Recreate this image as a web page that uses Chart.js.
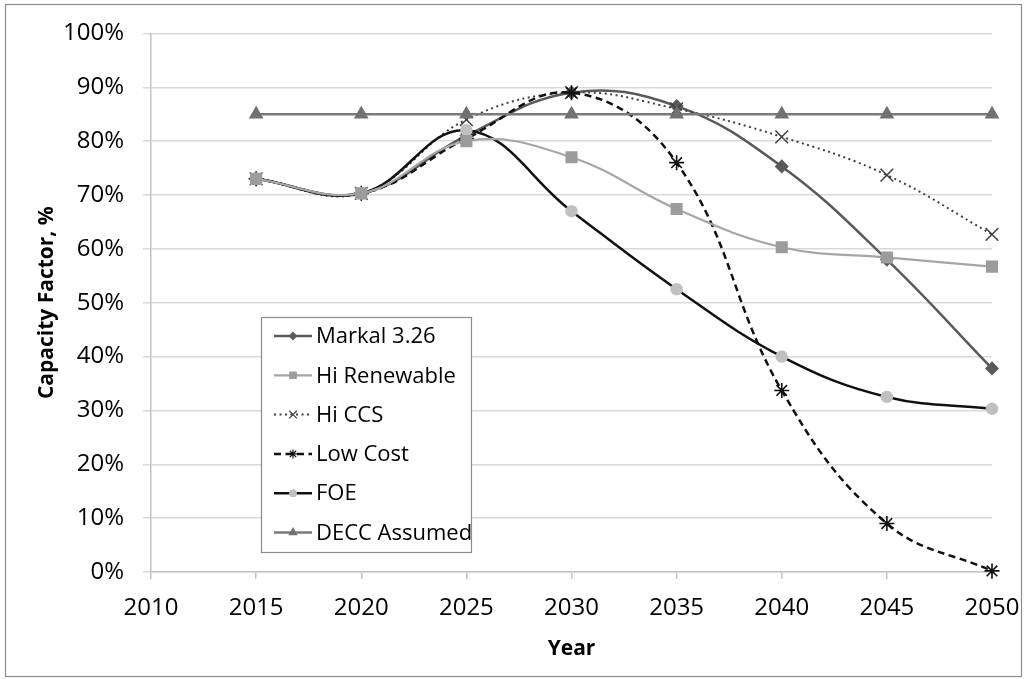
<!DOCTYPE html>
<html>
<head>
<meta charset="utf-8">
<script src="https://cdn.jsdelivr.net/npm/chart.js"></script>
<style>
  body { margin: 0; background: #fff; }
  #wrap { width: 1027px; height: 679px; position: relative; }
</style>
</head>
<body>
<div id="wrap"><canvas id="cf"></canvas></div>
<script>
'use strict';

// values (% capacity factor)
const years = [2015, 2020, 2025, 2030, 2035, 2040, 2045, 2050];
const markal = [73, 70.3, 81, 89, 86.5, 75.3, 58, 37.8];
const hiRenewable = [73, 70.3, 80, 77, 67.4, 60.3, 58.4, 56.7];
const hiCCS = [73, 70.3, 84, 89, 86, 80.8, 73.7, 62.7];
const lowCost = [73, 70.3, 80.5, 89, 76, 33.7, 9, 0.2];
const foe = [73, 70.3, 82, 67, 52.5, 40, 32.5, 30.3];
const deccAssumed = [85, 85, 85, 85, 85, 85, 85, 85];

const xTicks = [2010, 2015, 2020, 2025, 2030, 2035, 2040, 2045, 2050];
const yTicks = [0, 10, 20, 30, 40, 50, 60, 70, 80, 90, 100];

const FONT = '"Open Sans", "Noto Sans", sans-serif';

const toPoints = (vals) => vals.map((v, i) => ({ x: years[i], y: v }));

function series(label, vals, style) {
  return Object.assign({
    label: label,
    data: toPoints(vals),
    showLine: true,
    tension: 0.4,
    borderWidth: 2.5,
    pointBorderWidth: 1.5,
    pointHoverRadius: 0,
    clip: false,
  }, style);
}

const datasets = [
  series('Markal 3.26', markal, {
    borderColor: '#5a5a5a', pointStyle: 'rectRot', pointRadius: 6,
    pointBackgroundColor: '#5a5a5a', pointBorderColor: '#5a5a5a', order: 5,
  }),
  series('Hi Renewable', hiRenewable, {
    borderColor: '#a6a6a6', borderWidth: 2.2, pointStyle: 'rect', pointRadius: 7.5,
    pointBackgroundColor: '#9c9c9c', pointBorderColor: '#9c9c9c', order: 0,
  }),
  series('Hi CCS', hiCCS, {
    borderColor: '#404040', borderWidth: 2, borderDash: [2, 3.5],
    pointStyle: 'crossRot', pointRadius: 9,
    pointBackgroundColor: '#404040', pointBorderColor: '#404040', order: 4,
  }),
  series('Low Cost', lowCost, {
    borderColor: '#111', borderDash: [7, 4.5],
    pointStyle: 'star', pointRadius: 7.5, pointBorderWidth: 1.6,
    pointBackgroundColor: '#111', pointBorderColor: '#111', order: 3,
  }),
  series('FOE', foe, {
    borderColor: '#111', pointStyle: 'circle', pointRadius: 5.5,
    pointBackgroundColor: '#c0c0c0', pointBorderColor: '#c0c0c0', order: 2,
  }),
  series('DECC Assumed', deccAssumed, {
    borderColor: '#7a7a7a', pointStyle: 'triangle', pointRadius: 7,
    pointBackgroundColor: '#717171', pointBorderColor: '#717171', order: 1,
  }),
];

// outer frame of the chart
const frame = {
  id: 'frame',
  beforeDraw(chart) {
    const c = chart.ctx;
    c.save();
    c.fillStyle = '#fff';
    c.fillRect(0, 0, chart.width, chart.height);
    c.strokeStyle = '#8c8c8c';
    c.lineWidth = 1.2;
    c.strokeRect(5.5, 4.5, 1016, 672);
    c.restore();
  },
};

// excel style legend box: line + marker + text
const boxLegend = {
  id: 'boxLegend',
  afterDraw(chart) {
    const c = chart.ctx;
    const box = { left: 261, top: 317, width: 210, height: 235 };
    c.save();
    c.fillStyle = '#fff';
    c.fillRect(box.left, box.top, box.width, box.height);
    c.strokeStyle = '#8c8c8c';
    c.lineWidth = 1.2;
    c.strokeRect(box.left + 0.5, box.top + 0.5, box.width, box.height);

    chart.data.datasets.forEach((ds, i) => {
      const y = 336 + i * 39.3;
      c.save();
      c.strokeStyle = ds.borderColor;
      c.lineWidth = ds.borderWidth;
      c.setLineDash(ds.borderDash || []);
      c.beginPath();
      c.moveTo(274, y);
      c.lineTo(312, y);
      c.stroke();
      c.restore();

      c.save();
      c.fillStyle = ds.pointBackgroundColor;
      c.strokeStyle = ds.pointBorderColor;
      c.setLineDash([]);
      Chart.helpers.drawPoint(c, {
        pointStyle: ds.pointStyle,
        radius: ds.pointRadius * 0.6,
        rotation: 0,
        borderWidth: 1,
      }, 293, y);
      c.restore();

      c.fillStyle = '#000';
      c.font = '22px ' + FONT;
      c.textBaseline = 'middle';
      c.textAlign = 'left';
      c.fillText(ds.label, 316, y + 1);
    });
    c.restore();
  },
};

new Chart(document.getElementById('cf'), {
  type: 'scatter',
  data: { datasets: datasets },
  plugins: [frame, boxLegend],
  options: {
    responsive: true,
    maintainAspectRatio: false,
    animation: false,
    layout: { padding: { left: 0, top: 29, right: 35, bottom: 0 } },
    plugins: {
      legend: { display: false },
      tooltip: { enabled: false },
    },
    scales: {
      x: {
        type: 'linear',
        min: 2010,
        max: 2050,
        afterFit: (scale) => {
          scale.height = 107;
          scale.paddingLeft = 0;
          scale.paddingRight = 0;
        },
        afterBuildTicks: (scale) => { scale.ticks = xTicks.map((v) => ({ value: v })); },
        ticks: {
          color: '#000',
          font: { family: FONT, size: 24 },
          padding: 15,
          maxRotation: 0,
          callback: (v) => String(v),
        },
        grid: { drawOnChartArea: false, drawTicks: true, tickLength: 7, color: '#c4c4c4', lineWidth: 1.5 },
        border: { display: true, color: '#c4c4c4', width: 1.5 },
        title: {
          display: true,
          text: 'Year',
          color: '#000',
          font: { family: FONT, size: 21, weight: 'bold' },
          padding: { top: 0, bottom: 17 },
        },
      },
      y: {
        min: 0,
        max: 100,
        afterFit: (scale) => { scale.width = 151; },
        afterBuildTicks: (scale) => { scale.ticks = yTicks.map((v) => ({ value: v })); },
        ticks: {
          color: '#000',
          font: { family: FONT, size: 24 },
          padding: 19,
          callback: (v) => v + '%',
        },
        grid: { color: '#d9d9d9', lineWidth: 1.5, tickLength: 8 },
        border: { display: true, color: '#c4c4c4', width: 1.5 },
        title: {
          display: true,
          text: 'Capacity Factor, %',
          color: '#000',
          font: { family: FONT, size: 21, weight: 'bold' },
          padding: { top: 34, bottom: 0 },
        },
      },
    },
  },
});
</script>
</body>
</html>
